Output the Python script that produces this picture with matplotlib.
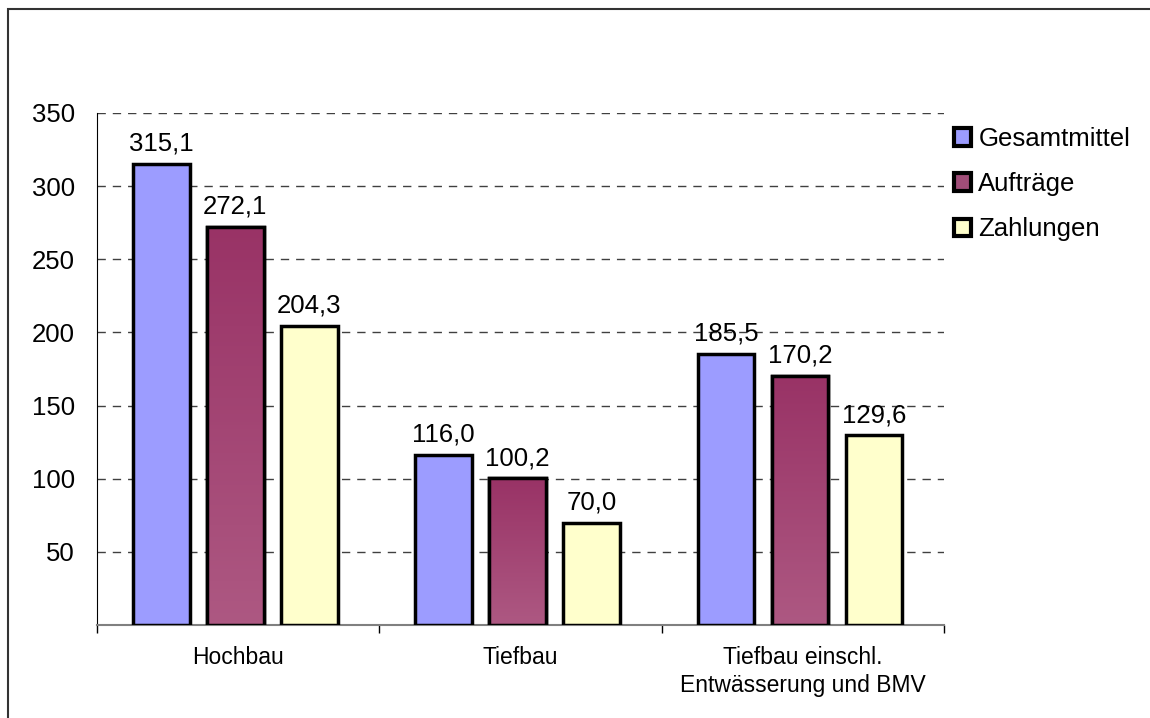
import matplotlib
matplotlib.use("Agg")
import matplotlib.pyplot as plt
import numpy as np
from matplotlib.colors import LinearSegmentedColormap
from matplotlib.patches import Rectangle

plt.rcParams['font.family'] = ['Liberation Sans', 'DejaVu Sans']

# Daten
kategorien = ['Hochbau', 'Tiefbau', 'Tiefbau einschl.\nEntwässerung und BMV']
serien = ['Gesamtmittel', 'Aufträge', 'Zahlungen']
gesamtmittel = [315.1, 116.0, 185.5]
auftraege = [272.1, 100.2, 170.2]
zahlungen = [204.3, 70.0, 129.6]
y_ticks = [50, 100, 150, 200, 250, 300, 350]

werte = [gesamtmittel, auftraege, zahlungen]
farben = ['#9c9cff', '#a04d78', '#ffffcc']

fig = plt.figure(figsize=(11.5, 7.18), dpi=100)
ax = fig.add_axes([97/1150, 1 - 625/718, (944 - 97)/1150, (625 - 113)/718])

# Rahmen um das Diagramm (nur links und oben sichtbar)
fig.add_artist(Rectangle((8/1150, -0.5), 2, 1.5 - 9/718, transform=fig.transFigure,
                         fill=False, edgecolor='#333333', linewidth=1.5))

x = np.arange(len(kategorien))
breite = 0.2
abstand = 0.262

grad_cmap = LinearSegmentedColormap.from_list('auf', ['#993366', '#ad5882'])

for i, (name, vals, farbe) in enumerate(zip(serien, werte, farben)):
    pos = x + (i - 1) * abstand - 0.01
    bars = ax.bar(pos, vals, breite, color=farbe, edgecolor='black',
                  linewidth=2.5, zorder=3, label=name)
    if name == 'Aufträge':
        for b in bars:
            x0, h = b.get_x(), b.get_height()
            grad = np.linspace(0, 1, 100).reshape(-1, 1)
            im = ax.imshow(grad, extent=[x0, x0 + breite, 0, h], origin='upper',
                           cmap=grad_cmap, aspect='auto', zorder=3.2)
            im.set_clip_path(b)
        ax.bar(pos, vals, breite, fill=False, edgecolor='black', linewidth=2.5, zorder=4)
    for p, v in zip(pos, vals):
        ax.annotate(f'{v:.1f}'.replace('.', ','), (p, v), xytext=(0, 6),
                    textcoords='offset points', ha='center', va='bottom', fontsize=18.5)

ax.set_xlim(-0.5, 2.5)
ax.set_ylim(0, 350)

# Gitternetz
ax.set_yticks(y_ticks)
ax.yaxis.grid(True, linestyle=(0, (6, 5)), color='#404040', linewidth=1, zorder=0)
ax.set_axisbelow(True)
ax.tick_params(axis='y', length=0, pad=16, labelsize=18.5)

ax.set_xticks(x)
ax.set_xticklabels(kategorien, fontsize=16.5, linespacing=1.3)
ax.set_xticks([-0.5, 0.5, 1.5, 2.5], minor=True)
ax.tick_params(axis='x', which='major', length=0, pad=15)
ax.tick_params(axis='x', which='minor', length=6, width=1, color='black')

ax.spines['top'].set_visible(False)
ax.spines['right'].set_visible(False)
ax.spines['left'].set_color('black')
ax.spines['bottom'].set_color('#808080')
ax.spines['bottom'].set_linewidth(1.5)

leg = ax.legend(loc='upper left', bbox_to_anchor=(954/1150, 1 - 127/718),
                bbox_transform=fig.transFigure, frameon=False, fontsize=18.5,
                handlelength=0.65, handleheight=0.65, handletextpad=0.3,
                labelspacing=0.82, borderpad=0, borderaxespad=0)
for h in leg.legend_handles:
    h.set_linewidth(3)

fig.savefig('out.png', dpi=100)
